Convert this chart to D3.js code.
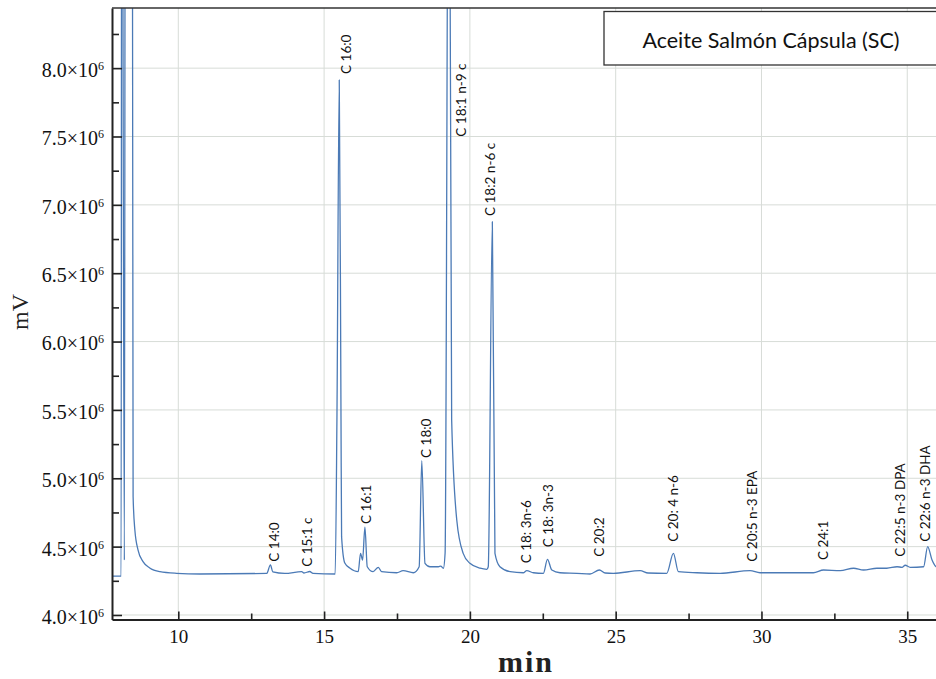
<!DOCTYPE html>
<html>
<head>
<meta charset="utf-8">
<script src="https://cdn.jsdelivr.net/npm/d3@7"></script>
<style>
  html, body { margin: 0; padding: 0; background: #fff; }
  svg { display: block; }
</style>
</head>
<body>
<svg id="chart"></svg>
<script>
// retention time (min) and detector signal (mV)
const times = [
  7.72, 8.04, 8.06, 8.15, 8.19, 8.41, 8.45, 8.51, 8.62, 8.79, 9.02, 9.37, 9.94, 10.74,
  13.03, 13.16, 13.24, 13.65, 14.23, 14.31, 14.51, 14.62, 15.38, 15.44, 15.52, 15.58,
  15.60, 15.71, 15.88, 16.17, 16.25, 16.32, 16.40, 16.48, 16.68, 16.86, 16.97, 17.49,
  17.71, 18.06, 18.26, 18.35, 18.46, 18.63, 18.92, 19.00, 19.09, 19.15, 19.28, 19.375,
  19.55, 19.77, 20.00, 20.35, 20.58, 20.63, 20.77, 20.86, 21.03, 21.38, 21.83, 21.95,
  22.18, 22.52, 22.66, 22.81, 23.09, 23.67, 24.12, 24.44, 24.64, 24.92, 25.84, 26.11,
  26.75, 26.98, 27.15, 27.78, 28.58, 29.61, 29.95, 31.78, 32.13, 32.70, 33.16, 33.50,
  33.96, 34.30, 34.65, 34.82, 34.93, 35.10, 35.56, 35.70, 35.85, 35.99, 36.2,
];
const signal = [
  4.285e6, 4.285e6, 12e6, 4.402e6, 12e6, 12e6, 4.865e6, 4.622e6, 4.475e6, 4.390e6, 4.344e6, 4.317e6, 4.305e6, 4.300e6,
  4.304e6, 4.366e6, 4.315e6, 4.304e6, 4.317e6, 4.307e6, 4.318e6, 4.304e6, 4.300e6, 5.426e6, 7.914e6, 5.426e6,
  4.573e6, 4.380e6, 4.344e6, 4.317e6, 4.451e6, 4.402e6, 4.642e6, 4.353e6, 4.317e6, 4.349e6, 4.317e6, 4.309e6,
  4.324e6, 4.309e6, 4.353e6, 5.129e6, 4.378e6, 4.353e6, 4.353e6, 4.358e6, 4.342e6, 4.454e6, 11e6, 5.426e6,
  4.695e6, 4.451e6, 4.378e6, 4.342e6, 4.334e6, 4.353e6, 6.877e6, 4.451e6, 4.353e6, 4.317e6, 4.309e6, 4.324e6,
  4.309e6, 4.305e6, 4.407e6, 4.329e6, 4.309e6, 4.305e6, 4.300e6, 4.329e6, 4.307e6, 4.305e6, 4.324e6, 4.307e6,
  4.305e6, 4.451e6, 4.317e6, 4.309e6, 4.305e6, 4.324e6, 4.309e6, 4.309e6, 4.329e6, 4.324e6, 4.342e6, 4.329e6,
  4.342e6, 4.342e6, 4.353e6, 4.349e6, 4.364e6, 4.349e6, 4.353e6, 4.500e6, 4.402e6, 4.353e6, 4.340e6,
];

// peak annotations: name, retention time, signal level where the label starts
const peakNames = [
  'C 14:0', 'C 15:1 c', 'C 16:0', 'C 16:1', 'C 18:0', 'C 18:1 n-9 c', 'C 18:2 n-6 c', 'C 18: 3n-6',
  'C 18: 3n-3', 'C 20:2', 'C 20: 4 n-6', 'C 20:5 n-3 EPA', 'C 24:1', 'C 22:5 n-3 DPA', 'C 22:6 n-3 DHA',
];
const peakTimes = [13.31, 14.42, 15.77, 16.46, 18.52, 19.72, 20.71, 21.93, 22.69, 24.46, 26.98, 29.69, 32.13, 34.76, 35.62];
const peakLabelLevels = [
  4.390e6, 4.353e6, 7.958e6, 4.666e6, 5.149e6, 7.499e6, 6.919e6, 4.378e6,
  4.495e6, 4.426e6, 4.536e6, 4.390e6, 4.402e6, 4.426e6, 4.536e6,
];

const xMajorTicks = [10, 15, 20, 25, 30, 35];
const xMinorTicks = [12.5, 17.5, 22.5, 27.5, 32.5];
const yMajorTicks = [4.0e6, 4.5e6, 5.0e6, 5.5e6, 6.0e6, 6.5e6, 7.0e6, 7.5e6, 8.0e6];
const yMinorTicks = [4.25e6, 4.75e6, 5.25e6, 5.75e6, 6.25e6, 6.75e6, 7.25e6, 7.75e6, 8.25e6];
const xTitle = 'min';
const yTitle = 'mV';
const legendTitle = 'Aceite Salmón Cápsula (SC)';

const config = {
  width: 936,
  height: 679,
  plotLeft: 112,
  plotRight: 951, // the frame runs past the right edge of the page
  plotTop: 8,
  plotBottom: 619.5,
  xDomain: [7.726, 36.5],
  yDomain: [3.967e6, 8.44e6],
  lineColor: '#4b7ab6',
  gridColor: '#d7dcd7',
  axisColor: '#222',
  serif: '"Liberation Serif", "DejaVu Serif", serif',
  sans: 'Lato, "Liberation Sans", sans-serif',
};

const c = config;
const svg = d3.select('#chart')
  .attr('width', c.width)
  .attr('height', c.height)
  .attr('viewBox', [0, 0, c.width, c.height]);

const x = d3.scaleLinear(c.xDomain, [c.plotLeft, c.plotRight]);
const y = d3.scaleLinear(c.yDomain, [c.plotBottom, c.plotTop]);

/**
 * grid
 */
const grid = svg.append('g').attr('stroke', c.gridColor).attr('stroke-width', 1);
grid.selectAll('.gx')
  .data(xMajorTicks)
  .join('line')
  .attr('x1', (d) => x(d)).attr('x2', (d) => x(d))
  .attr('y1', c.plotTop).attr('y2', c.plotBottom);
grid.selectAll('.gy')
  .data(yMajorTicks)
  .join('line')
  .attr('x1', c.plotLeft).attr('x2', c.plotRight)
  .attr('y1', (d) => y(d)).attr('y2', (d) => y(d));

/**
 * chromatogram trace
 */
svg.append('defs')
  .append('clipPath')
  .attr('id', 'plot_clip')
  .append('rect')
  .attr('x', c.plotLeft)
  .attr('y', c.plotTop)
  .attr('width', c.plotRight - c.plotLeft)
  .attr('height', c.plotBottom - c.plotTop);

const line = d3.line()
  .curve(d3.curveMonotoneX)
  .x((i) => x(times[i]))
  .y((i) => y(signal[i]));
svg.append('g')
  .attr('clip-path', 'url(#plot_clip)')
  .append('path')
  .attr('fill', 'none')
  .attr('stroke', c.lineColor)
  .attr('stroke-width', 1.3)
  .attr('stroke-linejoin', 'round')
  .attr('d', line(d3.range(times.length)));

/**
 * peak labels
 */
svg.append('g')
  .selectAll('text')
  .data(peakNames)
  .join('text')
  .attr('transform', (d, i) => `translate(${x(peakTimes[i]) + 4.5},${y(peakLabelLevels[i])}) rotate(-90)`)
  .attr('font-family', c.sans)
  .attr('font-size', 13.5)
  .attr('fill', '#111')
  .text((d) => d);

/**
 * axes
 */
const xAxis = svg.append('g')
  .attr('transform', `translate(0,${c.plotBottom})`)
  .call(d3.axisBottom(x).tickValues(xMajorTicks).tickSize(-8).tickSizeOuter(0).tickPadding(10).tickFormat(d3.format('d')));
xAxis.selectAll('text').attr('font-family', c.serif).attr('font-size', 19).attr('fill', '#111');
svg.append('g')
  .attr('transform', `translate(0,${c.plotBottom})`)
  .call(d3.axisBottom(x).tickValues(xMinorTicks).tickSize(-6).tickFormat(''))
  .call((g) => g.select('.domain').remove());

const yAxis = svg.append('g')
  .attr('transform', `translate(${c.plotLeft},0)`)
  .call(d3.axisLeft(y).tickValues(yMajorTicks).tickSize(-10).tickSizeOuter(0).tickPadding(8));
yAxis.selectAll('.tick text')
  .attr('font-family', c.serif)
  .attr('font-size', 20)
  .attr('fill', '#111')
  .attr('dy', '0.42em')
  .text(null)
  .call((t) => t.append('tspan').text((d) => `${(d / 1e6).toFixed(1)}×10`))
  .call((t) => t.append('tspan').attr('font-size', 12).attr('dy', -7).text('6'));
svg.append('g')
  .attr('transform', `translate(${c.plotLeft},0)`)
  .call(d3.axisLeft(y).tickValues(yMinorTicks).tickSize(-7).tickFormat(''))
  .call((g) => g.select('.domain').remove());

svg.selectAll('.domain').attr('stroke', c.axisColor).attr('stroke-width', 2);
svg.selectAll('.tick line').attr('stroke', c.axisColor).attr('stroke-width', 1.6);

// top frame
svg.append('line')
  .attr('x1', c.plotLeft).attr('x2', c.plotRight)
  .attr('y1', c.plotTop).attr('y2', c.plotTop)
  .attr('stroke', '#333')
  .attr('stroke-width', 1.5);

/**
 * axis titles
 */
svg.append('text')
  .attr('x', 526)
  .attr('y', 672)
  .attr('text-anchor', 'middle')
  .attr('font-family', c.serif)
  .attr('font-weight', 'bold')
  .attr('font-size', 30)
  .attr('letter-spacing', 2)
  .attr('fill', '#222')
  .text(xTitle);
svg.append('text')
  .attr('transform', 'translate(28,312) rotate(-90)')
  .attr('text-anchor', 'middle')
  .attr('font-family', c.serif)
  .attr('font-size', 24)
  .attr('fill', '#222')
  .text(yTitle);

/**
 * sample box
 */
const legend = svg.append('g');
legend.append('rect')
  .attr('x', 604)
  .attr('y', 11.5)
  .attr('width', 400)
  .attr('height', 53.5)
  .attr('fill', '#fff')
  .attr('stroke', '#333')
  .attr('stroke-width', 1.3);
legend.append('text')
  .attr('x', 771)
  .attr('y', 48)
  .attr('text-anchor', 'middle')
  .attr('font-family', c.sans)
  .attr('font-size', 21.5)
  .attr('fill', '#111')
  .text(legendTitle);
</script>
</body>
</html>
